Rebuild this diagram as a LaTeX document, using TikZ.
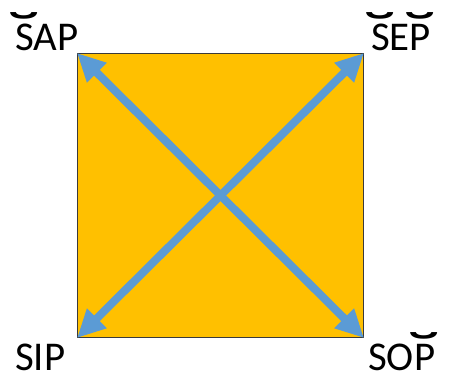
\documentclass[tikz,border=0pt]{standalone}
\usepackage{fontspec}
\setmainfont{Carlito}
\newfontfamily\brvfont{DejaVu Sans}
\usetikzlibrary{arrows.meta}
\definecolor{sqfill}{HTML}{FFC000}
\definecolor{arrowblue}{HTML}{5B9BD5}
\definecolor{sqedge}{HTML}{3A3A3A}
\tikzset{
  lbl/.style={anchor=base west, inner sep=0pt, font=\fontsize{41}{41}\selectfont, text=black},
  diag/.style={draw=arrowblue, line width=8bp, {Triangle[length=28bp,width=26bp]}-{Triangle[length=28bp,width=26bp]}}
}
\newcommand\brv[1]{\leavevmode\setbox0\hbox{#1}\rlap{\hbox to\wd0{\hss\raisebox{1.5bp}{\scalebox{1.8}[1]{\brvfont\bfseries\fontsize{46}{46}\selectfont ˘}}\hss}}\box0}
\begin{document}
\begin{tikzpicture}[x=1bp,y=-1bp]
\useasboundingbox (0,0) rectangle (449,375);
\node[draw=sqedge, fill=sqfill, line width=1bp, minimum width=286bp, minimum height=284bp, inner sep=0pt, anchor=north west] (sq) at (77,53) {};
\draw[diag] (sq.north west) -- (sq.south east);
\draw[diag] (sq.south west) -- (sq.north east);
\node[lbl] (sap) at (15,50) {\brv{S}AP};
\node[lbl] (sep) at (371,50) {\brv{S}E\brv{P}};
\node[lbl] (sip) at (15,370) {SIP};
\node[lbl] (sop) at (368,370) {SO\brv{P}};
\end{tikzpicture}
\end{document}
